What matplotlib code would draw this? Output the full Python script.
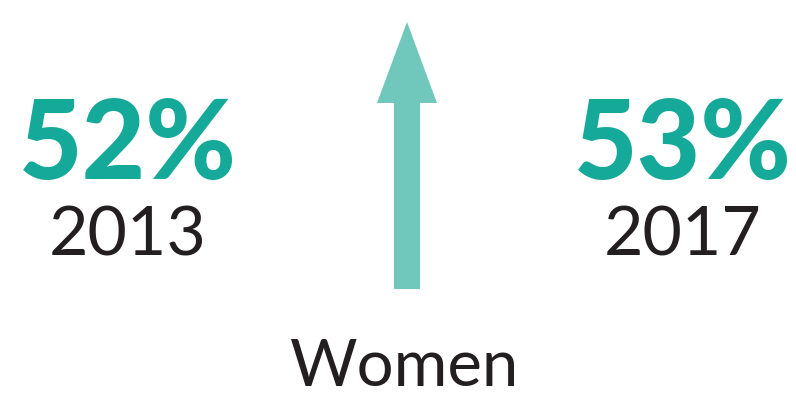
import matplotlib
matplotlib.use("Agg")
import matplotlib.pyplot as plt
from matplotlib.patches import Polygon

# Share of women, start and end year
years = ["2013", "2017"]
values = [52, 53]
group = "Women"

TEAL = "#15a999"
ARROW = "#70c8bd"
DARK = "#231f20"

W, H = 796, 396
fig = plt.figure(figsize=(W / 100, H / 100), dpi=100)
ax = fig.add_axes([0, 0, 1, 1])
ax.set_xlim(0, W)
ax.set_ylim(H, 0)
ax.axis("off")

font = ["Lato", "DejaVu Sans"]

# Percentages and years on either side
for cx, year, val in zip([128, 683], years, values):
    ax.text(cx, 146, f"{val}%", ha="center", va="center", fontsize=79,
            fontweight="black", color=TEAL, family=font)
    ax.text(cx, 236, year, ha="center", va="center", fontsize=49,
            fontweight="normal", color=DARK, family=font)

# Upward arrow showing the change
up = values[1] > values[0]
tip, base, bottom = (22, 103, 289) if up else (289, 208, 22)
arrow = Polygon([(394, bottom), (420, bottom), (420, base), (437, base),
                 (407, tip), (377, base), (394, base)],
                closed=True, facecolor=ARROW, edgecolor="none")
ax.add_patch(arrow)

ax.text(405, 368, group, ha="center", va="center", fontsize=47,
        fontweight="normal", color=DARK, family=font)

fig.savefig("out.png", dpi=100)
